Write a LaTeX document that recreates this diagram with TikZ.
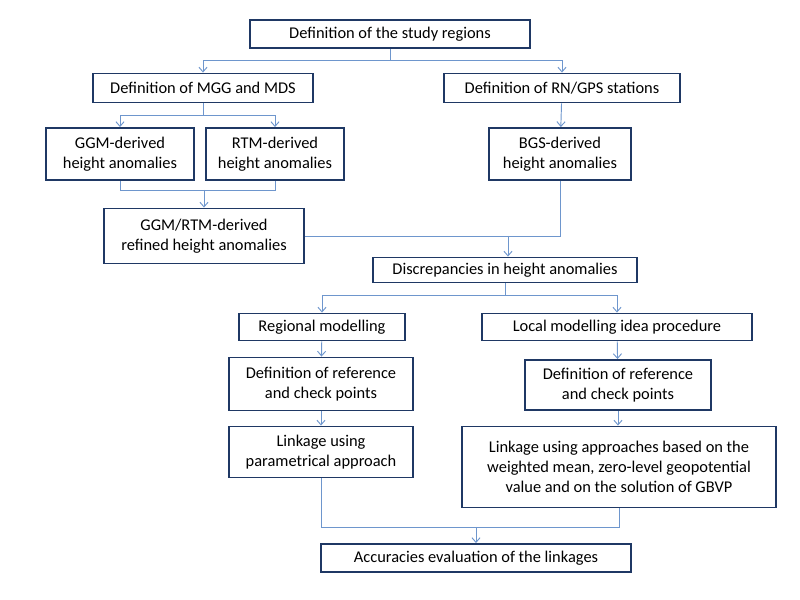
\documentclass[tikz,border=0pt]{standalone}
\usepackage{fontspec}
\setmainfont{Carlito}
\usetikzlibrary{arrows.meta, positioning}
\definecolor{boxblue}{RGB}{31,56,100}
\definecolor{lineblue}{RGB}{110,150,205}
\begin{document}
\begin{tikzpicture}[x=0.03cm, y=-0.03cm]
        \tikzstyle{stage} = [rectangle, draw=boxblue, line width=1.6pt, align=center, inner sep=2pt, font=\fontsize{14}{17}\selectfont]
        \tikzstyle{link} = [draw=lineblue, line width=0.8pt, -{Straight Barb[length=4pt,width=7pt]}]
        \tikzstyle{wire} = [draw=lineblue, line width=0.8pt]
        \useasboundingbox (0,0) rectangle (800,600);

        \node[stage, minimum width=8.4cm, minimum height=0.84cm] (regions) at (390,34) {Definition of the study regions};
        \node[stage, minimum width=6.6cm, minimum height=0.87cm] (mgg) at (203,88) {Definition of MGG and MDS};
        \node[stage, minimum width=7.1cm, minimum height=0.87cm] (rngps) at (562,88) {Definition of RN/GPS stations};
        \node[stage, minimum width=4.45cm, minimum height=1.56cm] (ggm) at (120,154) {GGM-derived\\height anomalies};
        \node[stage, minimum width=4.15cm, minimum height=1.56cm] (rtm) at (275,154) {RTM-derived\\height anomalies};
        \node[stage, minimum width=4.25cm, minimum height=1.56cm] (bgs) at (560,154) {BGS-derived\\height anomalies};
        \node[stage, minimum width=6.0cm, minimum height=1.65cm] (refined) at (204,236) {GGM/RTM-derived\\refined height anomalies};
        \node[stage, minimum width=7.9cm, minimum height=0.75cm] (discrep) at (505,270) {Discrepancies in height anomalies};
        \node[stage, minimum width=5.0cm, minimum height=0.81cm] (regional) at (322,327) {Regional modelling};
        \node[stage, minimum width=8.1cm, minimum height=0.81cm] (local) at (617,327) {Local modelling idea procedure};
        \node[stage, minimum width=5.5cm, minimum height=1.59cm] (refleft) at (321,384) {Definition of reference\\and check points};
        \node[stage, minimum width=5.6cm, minimum height=1.5cm] (refright) at (618,385) {Definition of reference\\and check points};
        \node[stage, minimum width=5.5cm, minimum height=1.53cm] (param) at (321,452) {Linkage using\\parametrical approach};
        \node[stage, minimum width=9.4cm, minimum height=2.43cm] (approach) at (619,467) {Linkage using approaches based on the\\weighted mean, zero-level geopotential\\value and on the solution of GBVP};
        \node[stage, minimum width=9.3cm, minimum height=0.84cm] (accuracy) at (476,558) {Accuracies evaluation of the linkages};

        \coordinate (split1) at (390,60);
        \coordinate (split2) at (203,115);
        \coordinate (join1) at (204,190);
        \coordinate (join2) at (508,236);
        \coordinate (split3) at (505,295);
        \coordinate (join3) at (476,527);

        % top level
        \draw[wire] (regions) -- (split1);
        \draw[link] (split1) -| (mgg);
        \draw[link] (split1) -| (rngps);

        % MGG branch
        \draw[wire] (mgg) -- (split2);
        \draw[link] (split2) -| (ggm);
        \draw[link] (split2) -| (rtm);
        \draw[wire] (ggm) |- (join1);
        \draw[wire] (rtm) |- (join1);
        \draw[link] (join1) -- (refined);

        % RN/GPS branch
        \draw[link] (rngps) -- (bgs);
        \draw[wire] (bgs) |- (join2);
        \draw[wire] (refined) -- (join2);
        \draw[link] (join2) -- (join2 |- discrep.north);

        % modelling
        \draw[wire] (discrep.south -| split3) -- (split3);
        \draw[link] (split3) -| (regional);
        \draw[link] (split3) -| (local);
        \draw[link] (regional) -- (refleft);
        \draw[link] (local) -- (refright);
        \draw[link] (refleft) -- (param);
        \draw[link] (refright) -- (refright |- approach.north);

        % evaluation
        \draw[wire] (param) |- (join3);
        \draw[wire] (approach) |- (join3);
        \draw[link] (join3) -- (accuracy);
\end{tikzpicture}
\end{document}
